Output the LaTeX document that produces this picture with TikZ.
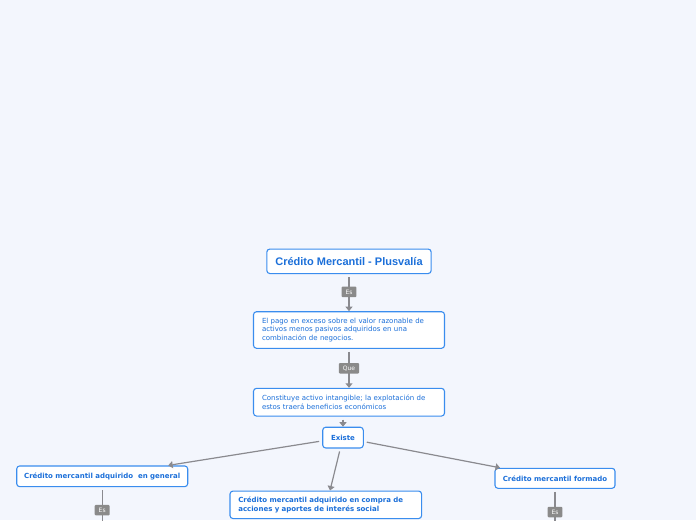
\documentclass[tikz,border=0pt]{standalone}
\usepackage{fontspec}
\setmainfont{DejaVu Sans}
\newfontfamily\titlefont{Liberation Sans}
\usetikzlibrary{arrows.meta,calc}
\definecolor{bgblue}{HTML}{F3F6FD}
\definecolor{nodeblue}{HTML}{3A8DEE}
\definecolor{txtblue}{HTML}{1B6FD9}
\definecolor{linkgray}{HTML}{8A8A8F}
\definecolor{taggray}{HTML}{8A8A8A}
\tikzset{
  topic/.style={draw=nodeblue, line width=1.1pt, rounded corners=3pt, fill=white, text=txtblue,
    font=\fontsize{7}{8.6}\selectfont, inner xsep=8.5pt, inner ysep=2pt},
  subtopic/.style={topic, font=\bfseries\fontsize{7}{8.6}\selectfont},
  link/.style={draw=linkgray, line width=1.2pt, shorten <=3pt, -{Triangle[width=7pt,length=4.5pt]}},
  plainlink/.style={draw=linkgray, line width=1.2pt, shorten <=3pt},
  tag/.style={fill=taggray, text=white, rounded corners=1pt, font=\fontsize{6}{7}\selectfont,
    inner xsep=4pt, inner ysep=1pt, minimum height=10.5pt}
}
\begin{document}
\begin{tikzpicture}[x=1pt, y=-1pt]
    \fill[bgblue] (0,0) rectangle (696,520);
    \clip (0,0) rectangle (696,520);
    % main topic
    \node[topic, minimum width=164pt, minimum height=24.5pt, font=\titlefont\bfseries\fontsize{11}{13}\selectfont] (title) at (349,261.3) {Crédito Mercantil - Plusvalía};
    \node[topic, text width=174pt, minimum height=36.6pt, align=left] (pago) at (349,330) {El pago en exceso sobre el valor razonable de\\activos menos pasivos adquiridos en una\\combinación de negocios.};
    \node[topic, text width=174pt, minimum height=27.7pt, align=left] (activo) at (349,402.2) {Constituye activo intangible; la explotación de\\estos traerá beneficios económicos};
    \node[subtopic, inner xsep=0pt, minimum width=40.6pt, minimum height=20.7pt] (existe) at (343,437.6) {Existe};
    % branches
    \node[subtopic, inner xsep=0pt, minimum width=171pt, minimum height=20.7pt] (general) at (102.2,476.3) {Crédito mercantil adquirido\ \ en general};
    \node[subtopic, text width=175pt, inner xsep=8.3pt, minimum height=27.5pt, align=left] (compra) at (325.8,504.8) {Crédito mercantil adquirido en compra de\\acciones y aportes de interés social};
    \node[subtopic, inner xsep=0pt, minimum width=120pt, minimum height=20pt] (formado) at (555,478.3) {Crédito mercantil formado};
    \coordinate (generalend) at (102.2,521);
    \coordinate (formadoend) at (555,521);
    % connectors
    \draw[link] (title) -- (pago) node[tag, pos=0.48] {Es};
    \draw[link] (pago) -- (activo) node[tag, midway] {Que};
    \draw[link] ($(activo.south -| existe.north)$) -- (existe.north);
    \draw[link] (existe) -- ($(general.north)+(66,0)$);
    \draw[link] (existe) -- ($(compra.north)+(4.2,0)$);
    \draw[link] (existe) -- ($(formado.north)+(-55,0)$);
    \draw[plainlink] (general) -- (generalend) node[tag, pos=0.68] {Es};
    \draw[plainlink] (formado) -- (formadoend) node[tag, pos=0.72] {Es};
\end{tikzpicture}
\end{document}
